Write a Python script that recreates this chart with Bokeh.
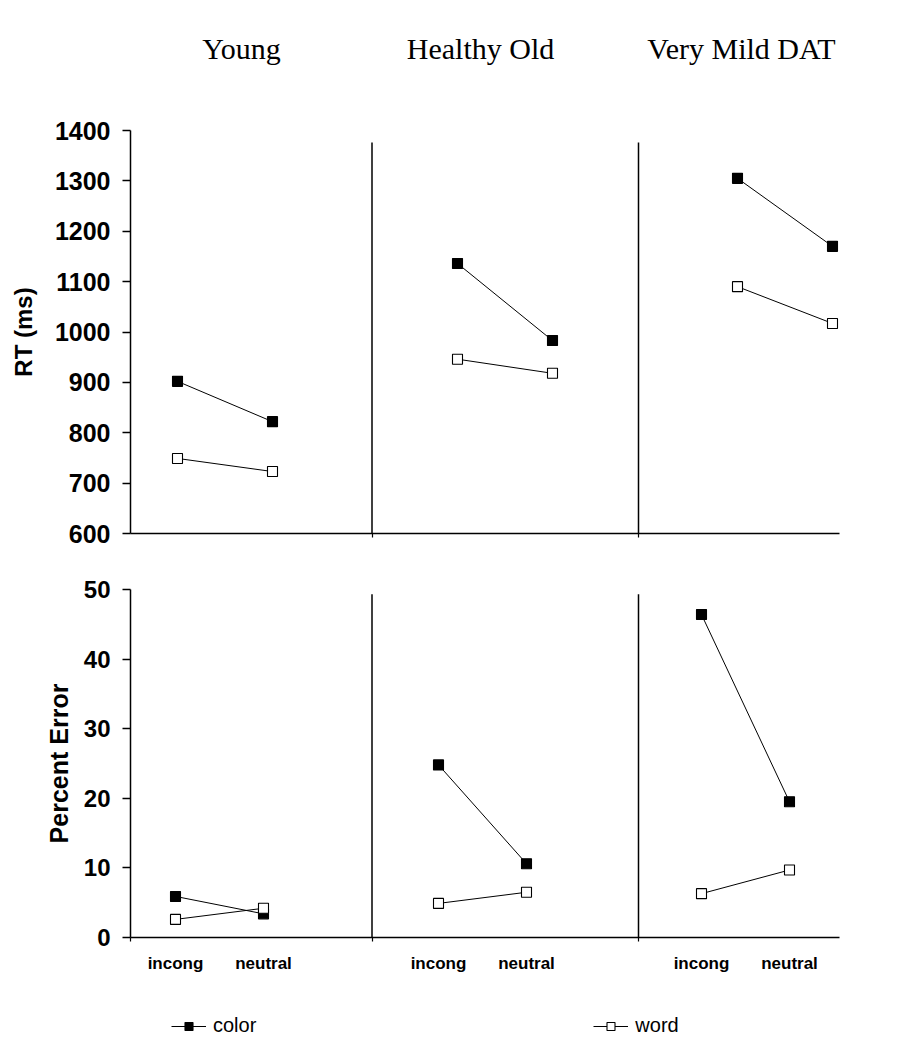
from bokeh.plotting import figure
from bokeh.models import Range1d, FixedTicker, LinearAxis, Legend, LegendItem
from bokeh.layouts import column
from bokeh.embed import file_html
from bokeh.resources import INLINE
from bokeh.core.properties import value

# ---------------- data ----------------
GROUPS = ["Young", "Healthy Old", "Very Mild DAT"]
CONDITIONS = ["incong", "neutral"]
SERIES = ["color", "word"]

RT_COLOR = [[902, 822], [1136, 983], [1305, 1170]]
RT_WORD = [[749, 723], [946, 918], [1090, 1017]]
PE_COLOR = [[5.9, 3.4], [24.8, 10.6], [46.4, 19.5]]
PE_WORD = [[2.6, 4.2], [4.9, 6.5], [6.3, 9.7]]

RT_TICKS = [600, 700, 800, 900, 1000, 1100, 1200, 1300, 1400]
PE_TICKS = [0, 10, 20, 30, 40, 50]
RT_LABEL = "RT (ms)"
PE_LABEL = "Percent Error"

# ---------------- layout constants (page-pixel-like x units) ----------------
X_LEFT, X_RIGHT = 130, 839
SEP_X = [371.5, 638]
TOP_X0, TOP_STEP, TOP_DC = 177, 280, 95
BOT_X0, BOT_STEP, BOT_DC = 175, 263, 88
TITLE_X = [241, 480, 741]
TITLE_Y = 48

SANS = "Liberation Sans"
SERIF = "Liberation Serif"
BL, FW = 130, X_RIGHT - X_LEFT
BR = 890 - BL - FW
W = BL + FW + BR


def positions(x0, step, dc):
    return [[x0 + g * step, x0 + g * step + dc] for g in range(len(GROUPS))]


def clean(p):
    p.toolbar_location = None
    p.outline_line_color = None
    p.xgrid.visible = False
    p.ygrid.visible = False
    p.background_fill_color = "white"
    p.border_fill_color = "white"


def style_panel(p, ticks, label, tick_size, label_size, label_standoff):
    clean(p)
    ya = p.yaxis[0]
    ya.ticker = FixedTicker(ticks=ticks)
    ya.axis_line_color = "black"
    ya.axis_line_width = 1.5
    ya.major_tick_line_color = "black"
    ya.major_tick_line_width = 1.5
    ya.major_tick_in = 0
    ya.major_tick_out = 8
    ya.minor_tick_line_color = None
    ya.major_label_standoff = 12
    ya.major_label_text_font = SANS
    ya.major_label_text_font_style = "bold"
    ya.major_label_text_font_size = tick_size
    ya.major_label_text_color = "black"
    ya.axis_label = label
    ya.axis_label_text_font = SANS
    ya.axis_label_text_font_style = "bold"
    ya.axis_label_text_font_size = label_size
    ya.axis_label_text_color = "black"
    ya.axis_label_standoff = label_standoff


def style_sep_axis(ax, ticks):
    ax.ticker = FixedTicker(ticks=ticks)
    ax.axis_line_color = "black"
    ax.axis_line_width = 1.5
    ax.major_tick_line_color = "black"
    ax.major_tick_line_width = 1.2
    ax.major_tick_in = 0
    ax.major_tick_out = 4
    ax.minor_tick_line_color = None
    ax.major_label_text_color = None
    ax.major_label_text_font_size = "0px"
    ax.major_label_standoff = 0


STYLES = [dict(fill_color="black"), dict(fill_color="white")]


def draw_series(p, xs, colors, words, visible=True):
    rends = []
    for vals, st in zip((colors, words), STYLES):
        ml = p.multi_line(xs=xs, ys=[list(v) for v in vals], line_color="black",
                          line_width=1, visible=visible)
        fx = [x for row in xs for x in row]
        fy = [y for row in vals for y in row]
        sc = p.scatter(x=fx, y=fy, marker="square", size=10, line_color="black",
                       line_width=1.1, visible=visible, **st)
        rends.append([ml, sc])
    return rends


def draw_separators(p, ylo, yhi):
    p.segment(x0=SEP_X, y0=[ylo] * len(SEP_X), x1=SEP_X, y1=[yhi] * len(SEP_X),
              line_color="black", line_width=1.5)


# ---------------- titles ----------------
pt = figure(width=W, height=100, frame_width=FW, frame_height=100,
            x_range=Range1d(X_LEFT, X_RIGHT), y_range=Range1d(100, 0),
            x_axis_type=None, y_axis_type=None, toolbar_location=None,
            output_backend="svg", min_border_left=BL, min_border_right=BR,
            min_border_top=0, min_border_bottom=0)
clean(pt)
pt.text(x=TITLE_X, y=[TITLE_Y] * 3, text=GROUPS, text_font=value(SERIF),
        text_font_size="30px", text_align="center", text_baseline="alphabetic",
        text_color="black")

# ---------------- RT panel ----------------
p1 = figure(width=W, height=460, frame_width=FW, frame_height=403,
            x_range=Range1d(X_LEFT, X_RIGHT), y_range=Range1d(RT_TICKS[0], RT_TICKS[-1]),
            toolbar_location=None, output_backend="svg",
            min_border_left=BL, min_border_right=BR, min_border_top=30, min_border_bottom=27)
style_panel(p1, RT_TICKS, RT_LABEL, "25px", "24px", 15)
style_sep_axis(p1.xaxis[0], SEP_X)
xs_top = positions(TOP_X0, TOP_STEP, TOP_DC)
draw_separators(p1, RT_TICKS[0], RT_TICKS[0] + 0.97 * (RT_TICKS[-1] - RT_TICKS[0]))
draw_series(p1, xs_top, RT_COLOR, RT_WORD)

# ---------------- Percent error panel ----------------
p2 = figure(width=W, height=422, frame_width=FW, frame_height=348,
            x_range=Range1d(X_LEFT, X_RIGHT), y_range=Range1d(PE_TICKS[0], PE_TICKS[-1]),
            toolbar_location=None, output_backend="svg",
            min_border_left=BL, min_border_right=BR, min_border_top=29, min_border_bottom=45)
style_panel(p2, PE_TICKS, PE_LABEL, "24px", "25px", 8)
style_sep_axis(p2.xaxis[0], [X_LEFT] + SEP_X)
xs_bot = positions(BOT_X0, BOT_STEP, BOT_DC)
draw_separators(p2, PE_TICKS[0], PE_TICKS[0] + 0.986 * (PE_TICKS[-1] - PE_TICKS[0]))
draw_series(p2, xs_bot, PE_COLOR, PE_WORD)

cond_ticks = [x for row in xs_bot for x in row]
lab_axis = LinearAxis(ticker=FixedTicker(ticks=cond_ticks))
lab_axis.major_label_overrides = {x: CONDITIONS[i % 2] for i, x in enumerate(cond_ticks)}
lab_axis.axis_line_color = None
lab_axis.major_tick_line_color = None
lab_axis.minor_tick_line_color = None
lab_axis.major_tick_out = 0
lab_axis.major_tick_in = 0
lab_axis.major_label_standoff = 12
lab_axis.major_label_text_font = SANS
lab_axis.major_label_text_font_style = "bold"
lab_axis.major_label_text_font_size = "17px"
lab_axis.major_label_text_color = "black"
p2.add_layout(lab_axis, "below")

# ---------------- legend (own strip, hidden copies of the series) ----------------
pl = figure(width=W, height=60, frame_width=FW, frame_height=60,
            x_range=Range1d(X_LEFT, X_RIGHT), y_range=Range1d(PE_TICKS[0], PE_TICKS[-1]),
            x_axis_type=None, y_axis_type=None, toolbar_location=None,
            output_backend="svg", min_border_left=BL, min_border_right=BR,
            min_border_top=0, min_border_bottom=0)
clean(pl)
hidden = draw_series(pl, xs_bot, PE_COLOR, PE_WORD, visible=False)
items = [LegendItem(label=value(name), renderers=r) for name, r in zip(SERIES, hidden)]
legend = Legend(items=items, orientation="horizontal", location=(41, 5),
                glyph_width=35, glyph_height=20, label_standoff=7, spacing=337,
                margin=0, padding=0, border_line_color=None, background_fill_alpha=0,
                label_text_font=SANS, label_text_font_size="20px", label_text_color="black")
pl.add_layout(legend)

layout = column(pt, p1, p2, pl, spacing=0)
open("out.html", "w").write(file_html(layout, INLINE))
